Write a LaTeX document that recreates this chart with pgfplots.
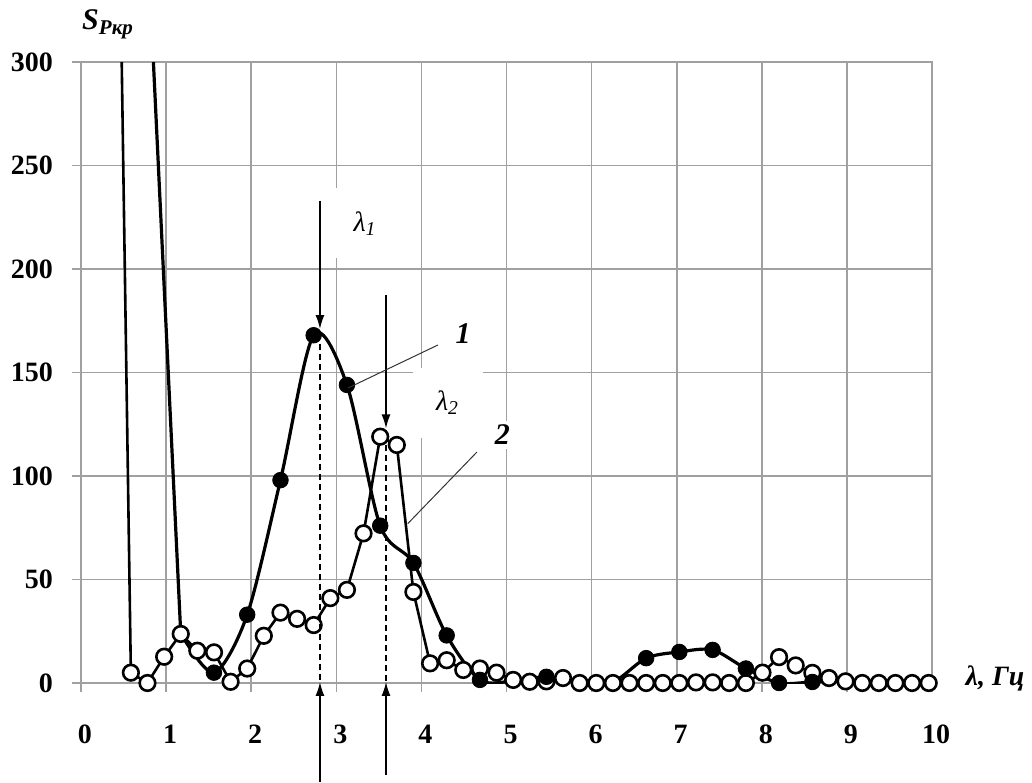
\documentclass[border=0pt]{standalone}
\usepackage{fontspec}
\setmainfont{Liberation Serif}
\usepackage{pgfplots}
\pgfplotsset{compat=1.18}
\usetikzlibrary{arrows.meta}
\definecolor{gridgray}{HTML}{A0A0A0}
\begin{document}
\begin{tikzpicture}
\path[use as bounding box] (-40.5pt,-49.5pt) rectangle (475.5pt,341.5pt);
\begin{axis}[
  at={(0pt,0pt)}, anchor=south west,
  width=425.5pt, height=310.5pt, scale only axis,
  xmin=0, xmax=10, ymin=0, ymax=300,
  xtick={0,1,...,10}, ytick={0,50,...,300},
  grid=major, grid style={gridgray, line width=0.8pt},
  axis line style={gridgray, line width=0.8pt},
  tick style={gridgray, line width=0.8pt},
  tick align=outside, major tick length=4.5pt,
  xtick pos=bottom, ytick pos=left,
  clip mode=individual,
  ticklabel style={font=\fontsize{14}{14}\selectfont\bfseries},
  /pgf/number format/assume math mode=true,
  xticklabel style={yshift=-13pt, xshift=2pt},
  yticklabel style={xshift=-6pt},
]
% curve 1 (filled) - lines
\addplot[black, line width=1.6pt, no markers] coordinates {(0.781,360) (1.172,24)};
\addplot[black, line width=1.6pt, smooth, no markers] coordinates {
(1.172,24) (1.562,5) (1.953,33) (2.344,98) (2.734,168) (3.125,144) (3.516,76) (3.906,58) (4.297,23) (4.688,1.5) (5.078,1) (5.469,3) (5.859,0.5) (6.25,0.5) (6.641,12) (7.031,15) (7.422,16) (7.813,7) (8.203,0) (8.594,0.5) (8.984,1) (9.375,0) (9.766,0)};
% curve 2 (open)
\addplot[black, line width=1.3pt, no markers] coordinates {(0.391,540) (0.586,5)};
\addplot[black, line width=1.3pt, mark=*, mark size=3.9pt, mark options={solid, fill=white, draw=black, line width=1.3pt}] coordinates {
(0.586,5) (0.781,0) (0.977,12.7) (1.172,23.7) (1.367,15.6) (1.563,14.8) (1.758,0.6) (1.953,7) (2.148,22.8) (2.344,34) (2.539,31) (2.734,28) (2.930,41) (3.125,45) (3.320,72.3) (3.516,119) (3.711,115) (3.906,44) (4.102,9.5) (4.297,11) (4.492,6.3) (4.688,7) (4.883,5) (5.078,1.5) (5.273,0.6) (5.469,0.8) (5.664,2.4) (5.859,0) (6.055,0) (6.25,0) (6.445,0) (6.641,0) (6.836,0) (7.031,0) (7.227,0.3) (7.422,0.3) (7.617,0) (7.813,0) (8.008,5) (8.203,12.5) (8.398,8.5) (8.594,4.9) (8.789,2.4) (8.984,0.8) (9.18,0) (9.375,0) (9.57,0) (9.766,0) (9.961,0)};
% curve 1 (filled) - markers on top
\addplot[black, only marks, mark=*, mark size=3.9pt, mark options={solid, fill=black}] coordinates {
(1.562,5) (1.953,33) (2.344,98) (2.734,168) (3.125,144) (3.516,76) (3.906,58) (4.297,23) (4.688,1.5) (5.469,3) (6.641,12) (7.031,15) (7.422,16) (7.813,7) (8.203,0) (8.594,0.5)};
% annotations lambda 1
\node[fill=white, minimum width=35pt, minimum height=35pt, inner sep=0pt] at (axis cs:3.337,222) {\fontsize{14}{14}\selectfont\itshape λ\textsubscript{1}};
\draw[-{Latex[length=7pt,width=4.5pt]}, line width=0.7pt] (axis cs:2.808,233) -- (axis cs:2.808,171);
\draw[dash pattern=on 3pt off 2pt, line width=0.7pt] (axis cs:2.808,164) -- (axis cs:2.808,0);
\draw[-{Latex[length=7pt,width=4.5pt]}, line width=0.7pt] (axis cs:2.808,-47.8) -- (axis cs:2.808,0.5);
% lambda 2
\node[fill=white, minimum width=35pt, minimum height=35pt, inner sep=0pt] at (axis cs:4.307,135.3) {\fontsize{14}{14}\selectfont\itshape λ\textsubscript{2}};
\draw[-{Latex[length=7pt,width=4.5pt]}, line width=0.7pt] (axis cs:3.584,187.4) -- (axis cs:3.584,123);
\draw[dash pattern=on 3pt off 2pt, line width=0.7pt] (axis cs:3.584,115) -- (axis cs:3.584,0);
\draw[-{Latex[length=7pt,width=4.5pt]}, line width=0.7pt] (axis cs:3.584,-44.4) -- (axis cs:3.584,0.5);
% curve labels
\draw[black!80, line width=0.5pt] (axis cs:4.195,163.3) -- (axis cs:3.137,142.5);
\draw[black!80, line width=0.5pt] (axis cs:4.653,111.6) -- (axis cs:3.84,77);
\node[fill=white, inner sep=2pt] at (axis cs:4.49,169) {\fontsize{15}{15}\selectfont\bfseries\itshape 1};
\node[fill=white, inner sep=2pt] at (axis cs:4.95,119.8) {\fontsize{15}{15}\selectfont\bfseries\itshape 2};
% axis titles
\node[anchor=base west, inner sep=0pt] at (axis cs:0.01,315.5) {\fontsize{15}{15}\selectfont\bfseries\itshape S\textsubscript{Pкр}};
\node[anchor=base west, inner sep=0pt] at (axis cs:10.39,-1) {\fontsize{14}{14}\selectfont\bfseries\itshape λ, Гц};
\end{axis}
\end{tikzpicture}
\end{document}
